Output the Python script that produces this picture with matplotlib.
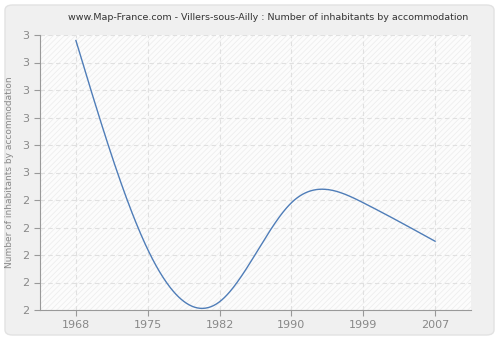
import numpy as np
import matplotlib
matplotlib.use("Agg")
import matplotlib.pyplot as plt
from matplotlib.patches import FancyBboxPatch, Rectangle
from matplotlib.ticker import FuncFormatter

# data
years = ["1968", "1975", "1982", "1990", "1999", "2007"]
values = [2.98, 2.22, 2.03, 2.39, 2.39, 2.25]
y_ticks = [2.0, 2.1, 2.2, 2.3, 2.4, 2.5, 2.6, 2.7, 2.8, 2.9, 3.0]


def natural_spline(x, y, n=400):
    x = np.asarray(x, float)
    y = np.asarray(y, float)
    k = len(x)
    h = np.diff(x)
    A = np.zeros((k, k))
    b = np.zeros(k)
    A[0, 0] = A[-1, -1] = 1
    for i in range(1, k - 1):
        A[i, i - 1] = h[i - 1]
        A[i, i] = 2 * (h[i - 1] + h[i])
        A[i, i + 1] = h[i]
        b[i] = 6 * ((y[i + 1] - y[i]) / h[i] - (y[i] - y[i - 1]) / h[i - 1])
    m = np.linalg.solve(A, b)
    xs = np.linspace(x[0], x[-1], n)
    idx = np.clip(np.searchsorted(x, xs) - 1, 0, k - 2)
    x0, x1 = x[idx], x[idx + 1]
    hh = x1 - x0
    t0, t1 = x1 - xs, xs - x0
    ys = (m[idx] * t0**3 + m[idx + 1] * t1**3) / (6 * hh) \
        + (y[idx] / hh - m[idx] * hh / 6) * t0 \
        + (y[idx + 1] / hh - m[idx + 1] * hh / 6) * t1
    return xs, ys


plt.rcParams["hatch.linewidth"] = 0.5

fig = plt.figure(figsize=(5, 3.4), dpi=100)
fig.patch.set_facecolor("white")
fig.patches.append(FancyBboxPatch((5 / 500, 5 / 340), 489 / 500, 330 / 340,
                                  boxstyle="round,pad=0,rounding_size=0.015",
                                  transform=fig.transFigure, facecolor="#f0f0f0",
                                  edgecolor="#e2e2e2", linewidth=1, zorder=-10))

ax = fig.add_axes([40 / 500, 30 / 340, 431 / 500, 275 / 340])
ax.set_facecolor("#fcfcfc")
ax.add_patch(Rectangle((0, 0), 1, 1, transform=ax.transAxes, facecolor="none",
                       edgecolor="#ececec", hatch="//////", linewidth=0, zorder=0))

xi = np.arange(len(years))
xs, ys = natural_spline(xi, values)
ax.plot(xs, ys, color="#4f7db8", linewidth=1.0, zorder=3)

ax.set_xlim(-0.5, len(years) - 0.5)
ax.set_ylim(2.0, 3.0)
ax.set_xticks(xi)
ax.set_xticklabels(years)
ax.set_yticks(y_ticks)
ax.yaxis.set_major_formatter(FuncFormatter(lambda v, p: str(int(np.floor(v + 0.5 + 1e-9)))))

ax.grid(True, color="#e0e0e0", linestyle=(0, (4, 3)), linewidth=0.8, zorder=1)
ax.set_axisbelow(True)
for s in ["top", "right"]:
    ax.spines[s].set_visible(False)
for s in ["left", "bottom"]:
    ax.spines[s].set_color("#999999")
ax.tick_params(colors="#999999", labelcolor="#888888", labelsize=8, length=4)

ax.set_ylabel("Number of inhabitants by accommodation", color="#888888", fontsize=6.5)
ax.yaxis.set_label_coords(-26 / 431, 0.5)
fig.text(268 / 500, 322 / 340,
         "www.Map-France.com - Villers-sous-Ailly : Number of inhabitants by accommodation",
         ha="center", va="center", fontsize=6.8, color="#333333")

fig.savefig("out.png", dpi=100)
